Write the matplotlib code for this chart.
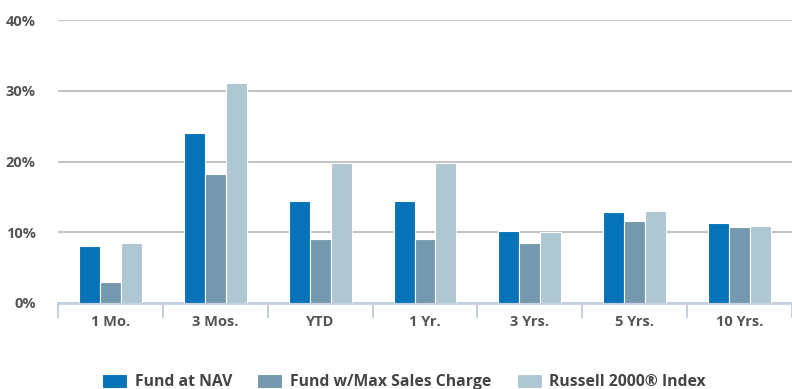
import matplotlib
matplotlib.use("Agg")
import matplotlib.pyplot as plt
import numpy as np

categories = ["1 Mo.", "3 Mos.", "YTD", "1 Yr.", "3 Yrs.", "5 Yrs.", "10 Yrs."]
fund_nav = [8.1, 24.0, 14.4, 14.4, 10.2, 12.8, 11.3]
fund_max_sales = [2.9, 18.2, 9.0, 9.0, 8.5, 11.6, 10.7]
russell_2000 = [8.5, 31.1, 19.8, 19.8, 10.0, 13.0, 10.9]
series_names = ["Fund at NAV", "Fund w/Max Sales Charge", "Russell 2000\u00ae Index"]
y_ticks = [0, 10, 20, 30, 40]

colors = ["#0672b7", "#7499ae", "#afc7d3"]
text_color = "#555555"

plt.rcParams["font.family"] = ["Open Sans", "DejaVu Sans"]

fig = plt.figure(figsize=(7.92, 3.89), dpi=100)
ax = fig.add_axes([58 / 792, 86 / 389, 734 / 792, 283 / 389])

x = np.arange(len(categories))
width = 0.2
for i, (vals, name) in enumerate(zip([fund_nav, fund_max_sales, russell_2000], series_names)):
    ax.bar(x + (i - 1) * width, vals, width, color=colors[i], edgecolor="white",
           linewidth=0.8, label=name, zorder=3)

ax.set_xlim(-0.5, 6.47)
ax.set_ylim(0, 40)
ax.set_yticks(y_ticks)
ax.set_yticklabels([f"{t}%" for t in y_ticks])
ax.yaxis.grid(True, color="#c4c4c4", linewidth=1.5, zorder=0)
ax.set_axisbelow(True)

for s in ["top", "right", "left"]:
    ax.spines[s].set_visible(False)
ax.spines["bottom"].set_color("#c3d1e0")
ax.spines["bottom"].set_linewidth(2)

ax.tick_params(axis="y", length=0, pad=16, labelsize=10.5, labelcolor=text_color)
ax.set_xticks(x)
ax.set_xticklabels(categories)
ax.tick_params(axis="x", length=0, pad=9, labelsize=10.5, labelcolor=text_color)
for lab in ax.get_xticklabels() + ax.get_yticklabels():
    lab.set_fontweight("bold")

# category separators below the baseline
ax.set_xticks(np.arange(-0.5, len(categories)), minor=True)
ax.tick_params(axis="x", which="minor", length=11, width=1.5, color="#c3d1e0", direction="out")

leg = fig.legend(loc="lower center", bbox_to_anchor=(0.51, -0.04), ncol=3, frameon=False,
                 handlelength=1.6, handleheight=1.0, handletextpad=0.5, columnspacing=1.6,
                 prop={"size": 11.3, "weight": "bold"})
for t in leg.get_texts():
    t.set_color("#444444")

fig.savefig("out.png", dpi=100)
